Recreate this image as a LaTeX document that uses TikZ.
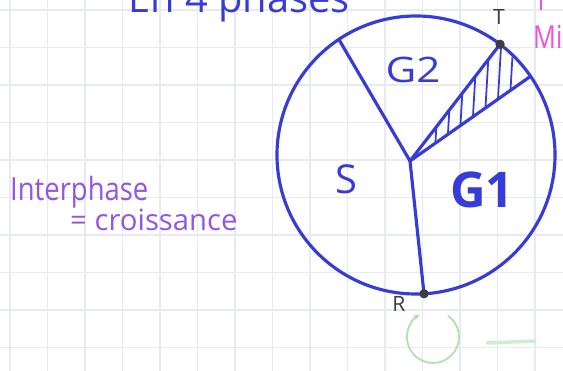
\documentclass[tikz,border=0pt]{standalone}
\usepackage{fontspec}
\setmainfont{Open Sans}
\usetikzlibrary{arrows.meta}
\definecolor{bleu}{RGB}{55,60,215}
\definecolor{violette}{RGB}{150,85,225}
\definecolor{rose}{RGB}{240,80,220}
\definecolor{ardoise}{RGB}{60,60,65}
\definecolor{vertpale}{RGB}{175,225,175}
\definecolor{quadrillage}{RGB}{232,234,242}

\begin{document}
\begin{tikzpicture}[x=0.03cm, y=-0.03cm,
  trait/.style={draw=bleu, line width=2.7pt, line cap=round, line join=round},
  phase/.style={text=bleu, font=\fontsize{30}{32}\selectfont, inner sep=0pt},
  point/.style={circle, fill=ardoise, minimum size=8pt, inner sep=0pt},
  repere/.style={text=ardoise, font=\fontsize{18}{20}\selectfont, inner sep=0pt},
  note/.style={anchor=base west, inner sep=0pt}]
  \useasboundingbox (0,0) rectangle (563,371);
  \fill[white] (0,0) rectangle (563,371);
  \foreach \k in {0,...,14}
    \draw[quadrillage, line width=1.2pt] ({10+37.5*\k},0) -- ({10+37.5*\k},371);
  \foreach \k in {0,...,9}
    \draw[quadrillage, line width=1.2pt] (0,{10+37.5*\k}) -- (563,{10+37.5*\k});
  \node[note, text=bleu, font=\fontsize{34}{36}\selectfont] (titre) at (128,13) {En 4 phases};
  \node[note, text=rose, font=\fontsize{27}{28}\selectfont] (mitose) at (533,49) {\scalebox{0.8}[1]{Mi}};
  \draw[rose, line width=1.5pt] (541,0) -- (541,10);
  \coordinate (C) at (416,155);
  \coordinate (O) at (410,161);
  \coordinate (a1) at ([shift={(123.7:4.17cm)}]C);
  \coordinate (T) at ([shift={(52.8:4.17cm)}]C);
  \coordinate (M) at ([shift={(34.5:4.17cm)}]C);
  \coordinate (R) at ([shift={(-86.7:4.17cm)}]C);
  \begin{scope}
    \clip (O) -- (T) -- (M) -- cycle;
    \foreach \x in {435,447,...,515}
      \draw[trait, line width=1.5pt] (\x,150) -- (\x+7,30);
  \end{scope}
  \draw[trait] (C) circle[radius=4.17cm];
  \foreach \b in {a1, T, M, R}
    \draw[trait] (O) -- (\b);
  \node[point] (pT) at (T) {};
  \node[point] (pR) at (R) {};
  \node[repere] (lT) at (499,17) {T};
  \node[repere] (lR) at (399,304) {R};
  \node[phase] (g2) at (413,70) {\scalebox{1.2}[1]{G2}};
  \node[phase, font=\fontsize{34}{36}\selectfont] (s) at (346,179) {S};
  \node[phase, font=\fontsize{42}{44}\selectfont\bfseries] (g1) at (482,190) {G1};
  \node[note, text=violette, font=\fontsize{26}{28}\selectfont] (inter) at (10,201) {\scalebox{0.9}[1.05]{Interphase}};
  \node[note, text=violette, font=\fontsize{25}{27}\selectfont] (crois) at (70,231) {= croissance};
  \draw[vertpale, line width=1.5pt, -{Stealth[length=6pt]}]
    (433,337) ++(55:0.78cm) arc[start angle=55, end angle=-240, radius=0.78cm];
  \draw[vertpale!60, line width=3pt, line cap=round] (487,343) -- (535,341);
\end{tikzpicture}
\end{document}
